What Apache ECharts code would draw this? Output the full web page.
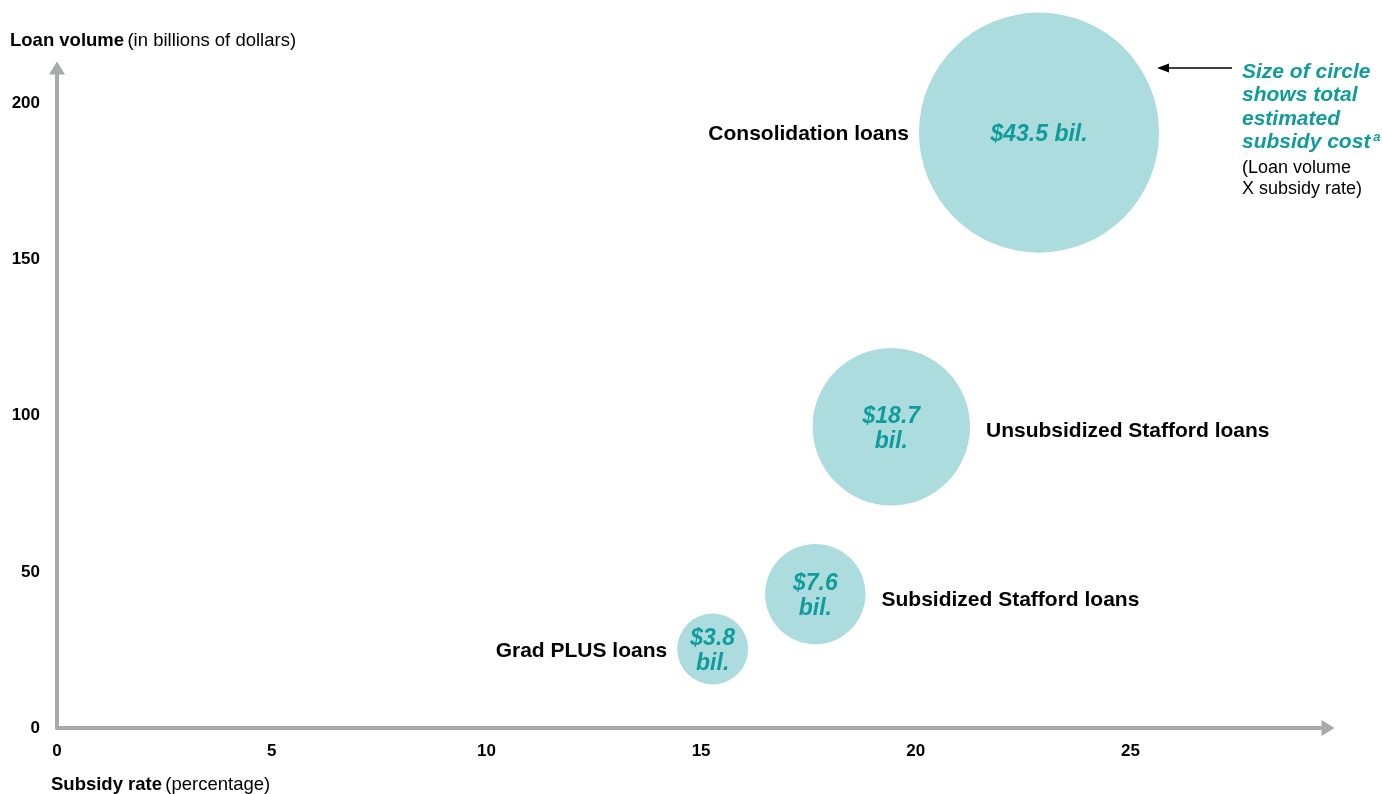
<!DOCTYPE html>
<html>
<head>
<meta charset="utf-8">
<script src="https://cdn.jsdelivr.net/npm/echarts@6/dist/echarts.min.js"></script>
<style>
  html, body { margin: 0; padding: 0; background: #fff; }
  #chart { width: 1382px; height: 794px; }
</style>
</head>
<body>
<div id="chart"></div>
<script>
const loanTypes = ['Grad PLUS loans', 'Subsidized Stafford loans', 'Unsubsidized Stafford loans', 'Consolidation loans']
const subsidyRate = [15.27, 17.66, 19.43, 22.87]
const loanVolume = [25.3, 42.9, 96.5, 190.7]
const subsidyCost = [3.8, 7.6, 18.7, 43.5]
const xTicks = [0, 5, 10, 15, 20, 25]
const yTicks = [0, 50, 100, 150, 200]

// where each loan-type name sits next to its bubble
const namePosition = ['left', 'right', 'right', 'left']
const nameShiftY = [2, 6, 4, 2]

const font = 'Liberation Sans, Arial, sans-serif'
const axisGray = '#a7a9ac'
const bubbleFill = '#acdcdd'
const teal = '#119c9c'

// bubble area proportional to cost
const sizeOf = (cost) => 36.4 * Math.sqrt(cost)

const points = loanTypes.map((name, i) => ({
  name: name,
  value: [subsidyRate[i], loanVolume[i], subsidyCost[i]],
}))

const chart = echarts.init(document.getElementById('chart'))
chart.setOption({
  animation: false,
  textStyle: { fontFamily: font },
  grid: { left: 57, right: 54, top: 68, bottom: 66 },
  xAxis: {
    type: 'value',
    min: 0,
    max: 29.6,
    interval: 5,
    splitLine: { show: false },
    axisTick: { show: false },
    axisLine: {
      show: true,
      onZero: false,
      lineStyle: { color: axisGray, width: 4 },
      symbol: ['none', 'triangle'],
      symbolSize: [16, 13],
    },
    axisLabel: {
      margin: 15,
      color: '#000',
      fontWeight: 'bold',
      fontSize: 17,
      fontFamily: font,
      showMaxLabel: false,
      formatter: (v) => (xTicks.includes(v) ? String(v) : ''),
    },
  },
  yAxis: {
    type: 'value',
    min: 0,
    max: 211.4,
    interval: 50,
    splitLine: { show: false },
    axisTick: { show: false },
    axisLine: {
      show: true,
      onZero: false,
      lineStyle: { color: axisGray, width: 4 },
      symbol: ['none', 'triangle'],
      symbolSize: [16, 13],
    },
    axisLabel: {
      margin: 17,
      color: '#000',
      fontWeight: 'bold',
      fontSize: 17,
      fontFamily: font,
      showMaxLabel: false,
      formatter: (v) => (yTicks.includes(v) ? String(v) : ''),
    },
  },
  series: [
    {
      type: 'scatter',
      data: points,
      symbolSize: (val) => sizeOf(val[2]),
      itemStyle: { color: bubbleFill, opacity: 1 },
      label: {
        show: true,
        position: 'inside',
        color: teal,
        fontSize: 23,
        fontWeight: 'bold',
        fontStyle: 'italic',
        fontFamily: font,
        lineHeight: 25,
        offset: [0, 2],
        formatter: (p) => {
          const c = p.value[2]
          return c > 30 ? '$' + c + ' bil.' : '$' + c + '\nbil.'
        },
      },
      emphasis: { disabled: true },
      z: 2,
    },
    {
      type: 'scatter',
      data: points.map((p, i) => ({
        name: p.name,
        value: p.value,
        label: {
          position: namePosition[i],
          distance: namePosition[i] === 'left' ? 10 : 16,
          offset: [0, nameShiftY[i]],
        },
      })),
      symbolSize: (val) => sizeOf(val[2]),
      itemStyle: { color: 'rgba(255,255,255,0)', opacity: 1 },
      label: {
        show: true,
        color: '#000',
        opacity: 1,
        fontSize: 21,
        fontWeight: 'bold',
        fontFamily: font,
        formatter: (p) => p.name,
      },
      emphasis: { disabled: true },
      z: 3,
    },
  ],
  graphic: [
    {
      type: 'text',
      left: 10,
      top: 31,
      style: {
        text: '{b|Loan volume} {r|(in billions of dollars)}',
        rich: {
          b: { fontSize: 18.5, fontWeight: 'bold', fill: '#000', fontFamily: font },
          r: { fontSize: 18.5, fill: '#000', fontFamily: font },
        },
      },
    },
    {
      type: 'text',
      left: 51,
      top: 775,
      style: {
        text: '{b|Subsidy rate} {r|(percentage)}',
        rich: {
          b: { fontSize: 18.5, fontWeight: 'bold', fill: '#000', fontFamily: font },
          r: { fontSize: 18.5, fill: '#000', fontFamily: font },
        },
      },
    },
    {
      type: 'line',
      shape: { x1: 1166, y1: 68, x2: 1232, y2: 68 },
      style: { stroke: '#000', lineWidth: 1.3 },
    },
    {
      type: 'polygon',
      shape: { points: [[1157, 68], [1169, 63.5], [1169, 72.5]] },
      style: { fill: '#000' },
    },
    {
      type: 'text',
      left: 1242,
      top: 60,
      style: {
        text: 'Size of circle\nshows total\nestimated\nsubsidy cost{s|a}',
        fill: teal,
        fontSize: 21,
        fontWeight: 'bold',
        fontStyle: 'italic',
        fontFamily: font,
        lineHeight: 23.5,
        rich: {
          s: { fontSize: 13, fontWeight: 'bold', fontStyle: 'italic', fill: teal, verticalAlign: 'top', padding: [0, 0, 10, 3], fontFamily: font },
        },
      },
    },
    {
      type: 'text',
      left: 1242,
      top: 158,
      style: {
        text: '(Loan volume\nX subsidy rate)',
        fill: '#000',
        fontSize: 18,
        fontFamily: font,
        lineHeight: 21,
      },
    },
  ],
})
</script>
</body>
</html>
